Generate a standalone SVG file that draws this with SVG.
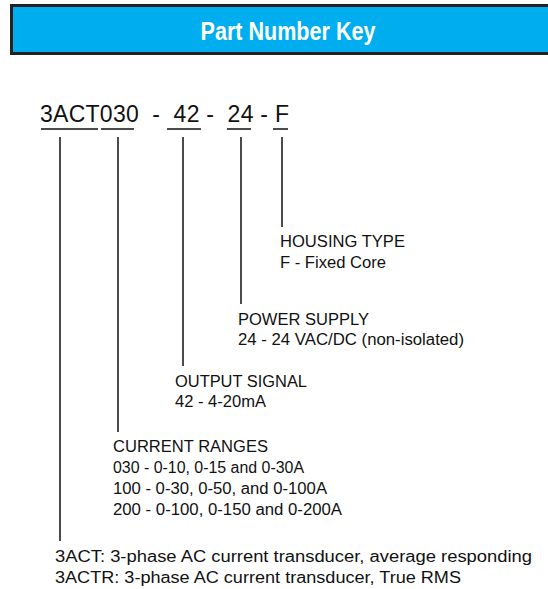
<svg xmlns="http://www.w3.org/2000/svg" width="548" height="589" viewBox="0 0 548 589">
<style>
.t{font-family:"Liberation Sans",Arial,sans-serif;font-size:16px;fill:#111}
.pn{font-family:"Liberation Sans",Arial,sans-serif;font-size:23px;fill:#111}
.ln{stroke:#111;stroke-width:1.5;fill:none}
</style>
<g id="header">
<rect x="11.5" y="5.5" width="545" height="48" fill="#00AEEF" stroke="#222" stroke-width="3"/>
<text x="288" y="40" text-anchor="middle" font-family="'Liberation Sans',Arial,sans-serif" font-weight="bold" font-size="26" fill="#fff" textLength="175" lengthAdjust="spacingAndGlyphs">Part Number Key</text>
</g>
<g id="partnumber">
<text class="pn" x="40" y="122" textLength="249" lengthAdjust="spacing" xml:space="preserve">3ACT030  -  42 -  24 - F</text>
</g>
<g id="connectors">
<path class="ln" d="M41 129H98M101 129H134M167 129H201M227 129H251M273 129H288"/>
<path class="ln" d="M60 137V541M118 137V432M183 137V366M241 137V304M282 137V227"/>
</g>
<g id="housing"><text class="t" x="280" y="247" textLength="125" lengthAdjust="spacingAndGlyphs">HOUSING TYPE</text><text class="t" x="280" y="268" textLength="106" lengthAdjust="spacingAndGlyphs">F - Fixed Core</text></g>
<g id="power"><text class="t" x="238" y="325" textLength="131" lengthAdjust="spacingAndGlyphs">POWER SUPPLY</text><text class="t" x="238" y="345" textLength="226" lengthAdjust="spacingAndGlyphs">24 - 24 VAC/DC (non-isolated)</text></g>
<g id="output"><text class="t" x="175" y="387" textLength="132" lengthAdjust="spacingAndGlyphs">OUTPUT SIGNAL</text><text class="t" x="175" y="407" textLength="91" lengthAdjust="spacingAndGlyphs">42 - 4-20mA</text></g>
<g id="ranges"><text class="t" x="113" y="452" textLength="155" lengthAdjust="spacingAndGlyphs">CURRENT RANGES</text><text class="t" x="113" y="473" textLength="191" lengthAdjust="spacingAndGlyphs">030 - 0-10, 0-15 and 0-30A</text><text class="t" x="113" y="494" textLength="214" lengthAdjust="spacingAndGlyphs">100 - 0-30, 0-50, and 0-100A</text><text class="t" x="113" y="515" textLength="229" lengthAdjust="spacingAndGlyphs">200 - 0-100, 0-150 and 0-200A</text></g>
<g id="model"><text class="t" x="55" y="562" textLength="477" lengthAdjust="spacingAndGlyphs">3ACT: 3-phase AC current transducer, average responding</text><text class="t" x="55" y="583" textLength="406" lengthAdjust="spacingAndGlyphs">3ACTR: 3-phase AC current transducer, True RMS</text></g>
</svg>
